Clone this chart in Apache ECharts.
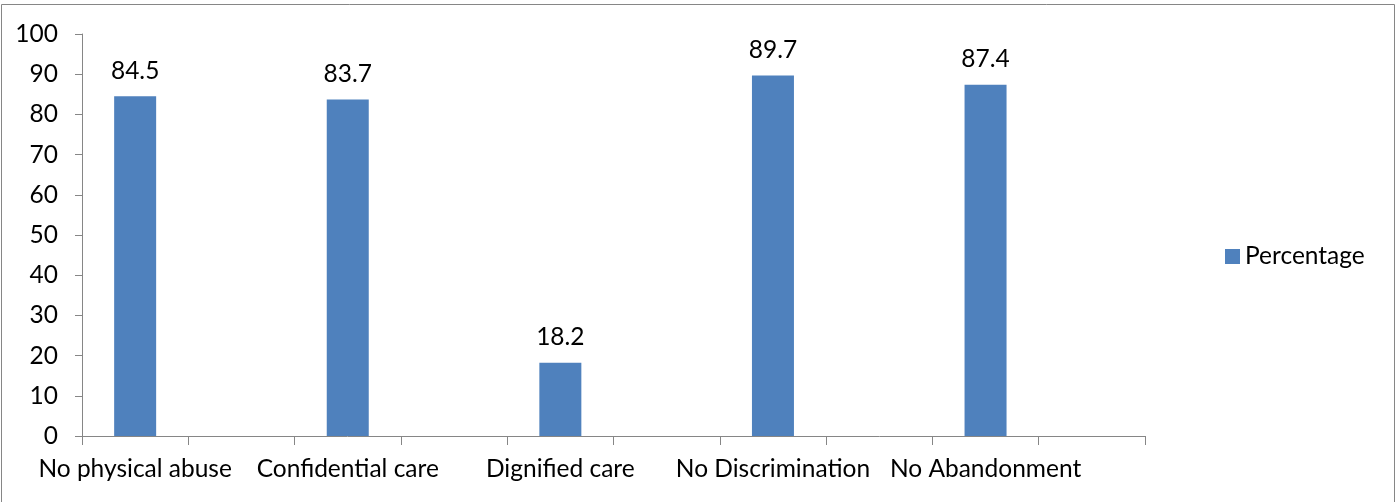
<!DOCTYPE html>
<html>
<head>
<meta charset="utf-8">
<script src="https://cdn.jsdelivr.net/npm/echarts@6/dist/echarts.min.js"></script>
<style>
html,body{margin:0;padding:0;background:#fff;}
#chart{width:1395px;height:502px;}
</style>
</head>
<body>
<div id="chart"></div>
<script>
const categories = ['No physical abuse', 'Confidential care', 'Dignified care', 'No Discrimination', 'No Abandonment'];
const percentage = [84.5, 83.7, 18.2, 89.7, 87.4];
const yTicks = [0, 10, 20, 30, 40, 50, 60, 70, 80, 90, 100];

// Each category occupies two slots on the axis (label slot + blank slot), as in the original sheet
const slotCats = [];
const slotVals = [];
categories.forEach((c, i) => {
  slotCats.push(c); slotVals.push(percentage[i]);
  slotCats.push(''); slotVals.push(null);
});

const FONT = 'Lato';
const FS = 24.5;
const chart = echarts.init(document.getElementById('chart'), null, {renderer: 'canvas'});
chart.setOption({
  animation: false,
  backgroundColor: '#ffffff',
  textStyle: {fontFamily: FONT},
  graphic: [{
    type: 'rect',
    shape: {x: 1.5, y: 4.5, width: 1393, height: 600},
    style: {fill: 'none', stroke: '#868686', lineWidth: 1},
    silent: true, z: -1
  }],
  grid: {left: 82, right: 250, top: 34, bottom: 66, containLabel: false},
  legend: {
    data: ['Percentage'],
    orient: 'vertical',
    left: 1220,
    top: 239,
    itemWidth: 15,
    itemHeight: 15,
    icon: 'rect',
    textStyle: {fontFamily: FONT, fontSize: FS, color: '#000'}
  },
  xAxis: {
    type: 'category',
    data: slotCats,
    boundaryGap: true,
    axisLine: {lineStyle: {color: '#868686', width: 1}},
    axisTick: {show: true, interval: 0, length: 9, lineStyle: {color: '#868686'}},
    axisLabel: {interval: 0, color: '#000', fontFamily: FONT, fontSize: FS, margin: 21}
  },
  yAxis: {
    type: 'value',
    min: yTicks[0],
    max: yTicks[yTicks.length - 1],
    interval: yTicks[1] - yTicks[0],
    splitLine: {show: false},
    axisLine: {show: true, lineStyle: {color: '#868686', width: 1}},
    axisTick: {show: true, length: 7, lineStyle: {color: '#868686'}},
    axisLabel: {color: '#000', fontFamily: FONT, fontSize: FS, margin: 24}
  },
  series: [{
    name: 'Percentage',
    type: 'bar',
    data: slotVals,
    barWidth: 42,
    itemStyle: {color: '#4F81BD'},
    label: {
      show: true,
      position: 'top',
      distance: 13,
      color: '#000',
      fontFamily: FONT,
      fontSize: FS,
      formatter: p => (p.value == null ? '' : p.value.toFixed(1))
    }
  }]
});
</script>
</body>
</html>
